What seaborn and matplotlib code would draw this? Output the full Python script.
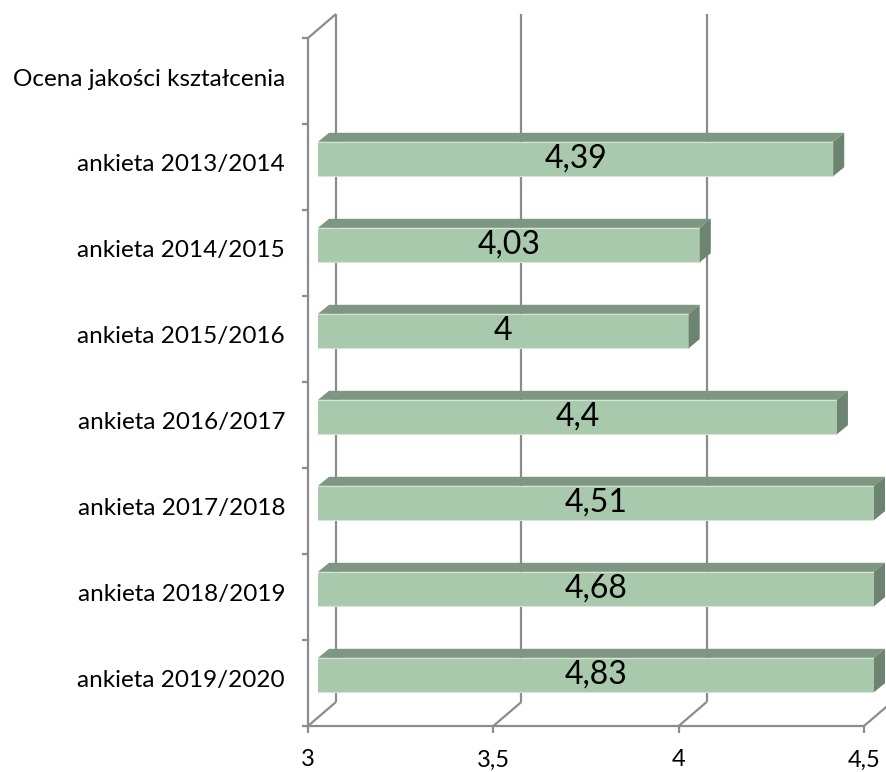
import numpy as np
import pandas as pd
import matplotlib
matplotlib.use("Agg")
import matplotlib.pyplot as plt
import seaborn as sns
from matplotlib.patches import Polygon

# ---------------- data ----------------
header = "Ocena jakości kształcenia"
surveys = ["ankieta 2013/2014", "ankieta 2014/2015", "ankieta 2015/2016",
           "ankieta 2016/2017", "ankieta 2017/2018", "ankieta 2018/2019",
           "ankieta 2019/2020"]
scores = [4.39, 4.03, 4.0, 4.4, 4.51, 4.68, 4.83]
score_labels = ["4,39", "4,03", "4", "4,4", "4,51", "4,68", "4,83"]
x_ticks = [3, 3.5, 4, 4.5]
x_tick_labels = ["3", "3,5", "4", "4,5"]

# ---------------- style ----------------
FRONT = "#A9C9AC"
TOP = "#7F9682"
SIDE = "#6C8470"
GRID = "#8C8C8C"

sns.set_theme(style="white")
plt.rcParams["font.family"] = ["Lato", "DejaVu Sans"]

W, H = 886, 772
fig = plt.figure(figsize=(W / 100, H / 100), dpi=100)
# axes = plane in which bars' front faces sit
ax = fig.add_axes([318 / W, 1 - 718 / H, 556 / W, 688 / H])

order = [header] + surveys
df = pd.DataFrame({"kat": surveys, "ocena": scores})
sns.barplot(data=df, x="ocena", y="kat", order=order, orient="h",
            color=FRONT, saturation=1, width=0.4, ax=ax,
            edgecolor="#D4E4D5", linewidth=0.8, zorder=2)
ax.set_xlim(x_ticks[0], x_ticks[-1])
ax.set_ylim(len(order) - 0.5, -0.5)
ax.axis("off")

# plane offsets in image pixels (right, down) relative to bar plane
FRONT_PL = (-10, 8)
BACK_PL = (18, -16)
DEPTH = (11, -9)


def P(x, y, plane=(0, 0), extra=(0, 0)):
    d = ax.transData.transform((x, y))
    d = (d[0] + plane[0] + extra[0], d[1] - plane[1] - extra[1])
    return ax.transAxes.inverted().transform(d)


def line(p, q, **kw):
    ax.plot([p[0], q[0]], [p[1], q[1]], transform=ax.transAxes,
            clip_on=False, color=GRID, lw=1.6, solid_capstyle="butt", **kw)


y_top, y_bot = -0.5, len(order) - 0.5
xmin, xmax = x_ticks[0], x_ticks[-1]

# back wall gridlines + floor diagonals
for xv in x_ticks:
    line(P(xv, y_top, BACK_PL), P(xv, y_bot, BACK_PL), zorder=0.5)
    line(P(xv, y_bot, FRONT_PL), P(xv, y_bot, BACK_PL), zorder=0.5)
    # x ticks
    line(P(xv, y_bot, FRONT_PL), P(xv, y_bot, FRONT_PL, (0, 7)), zorder=0.5)
    lp = P(xv, y_bot, FRONT_PL, (0, 34))
    ax.text(lp[0], lp[1], x_tick_labels[x_ticks.index(xv)], transform=ax.transAxes,
            ha="center", va="center", fontsize=17, color="black")

# front left axis and top diagonal
line(P(xmin, y_top, FRONT_PL), P(xmin, y_bot, FRONT_PL), zorder=0.6)
line(P(xmin, y_top, FRONT_PL), P(xmin, y_top, BACK_PL), zorder=0.6)
# front x axis
line(P(xmin, y_bot, FRONT_PL), P(xmax, y_bot, FRONT_PL), zorder=0.6)

# y ticks at category boundaries
for k in range(len(order) + 1):
    yb = k - 0.5
    line(P(xmin, yb, FRONT_PL), P(xmin, yb, FRONT_PL, (-6, 0)), zorder=0.6)

# category labels
for i, cat in enumerate(order):
    lp = P(xmin, i, FRONT_PL, (-23, -2))
    ax.text(lp[0], lp[1], cat, transform=ax.transAxes, ha="right",
            va="center", fontsize=17.5, color="black")

# 3-D faces and value labels
for bar in ax.patches:
    w = bar.get_width()
    if not np.isfinite(w) or w == 0:
        continue
    x0 = max(bar.get_x(), xmin)
    x1 = min(bar.get_x() + w, xmax)
    yt = bar.get_y()
    yb = yt + bar.get_height()
    top = [P(x0, yt), P(x1, yt), P(x1, yt, DEPTH), P(x0, yt, DEPTH)]
    side = [P(x1, yt), P(x1, yt, DEPTH), P(x1, yb, DEPTH), P(x1, yb)]
    ax.add_patch(Polygon(top, closed=True, transform=ax.transAxes,
                         clip_on=False, facecolor=TOP, edgecolor="none", zorder=2.5))
    ax.add_patch(Polygon(side, closed=True, transform=ax.transAxes,
                         clip_on=False, facecolor=SIDE, edgecolor="none", zorder=2.5))
    idx = int(round((yt + yb) / 2)) - 1
    ax.text((x0 + x1) / 2, (yt + yb) / 2, score_labels[idx], ha="center",
            va="center", fontsize=23, color="black", zorder=3)

fig.savefig("out.png", dpi=100)
